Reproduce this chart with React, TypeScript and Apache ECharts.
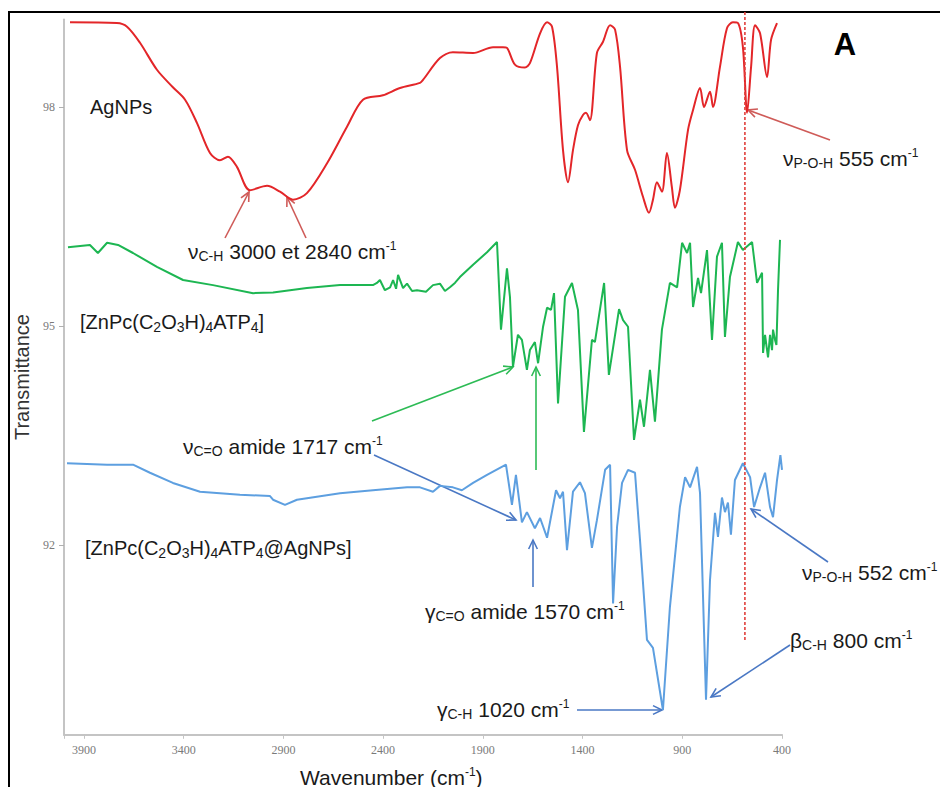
import React, { useEffect, useRef } from "react";
import * as echarts from "echarts";

// ---- axis ticks ----
const X_TICKS = [3900, 3400, 2900, 2400, 1900, 1400, 900, 400];
const Y_TICKS = [92, 95, 98];

// ---- spectra: [wavenumber (cm-1), transmittance (offset)] ----
const agnps: [number, number][] = [
  [3970, 99.16], [3735, 99.15], [3684, 99.1], [3619, 98.88], [3534, 98.51], [3454, 98.27], [3393, 98.1],
  [3333, 97.78], [3268, 97.37], [3218, 97.27], [3178, 97.32], [3133, 97.18], [3068, 96.86], [2982, 96.92],
  [2917, 96.84], [2852, 96.73], [2782, 96.82], [2681, 97.23], [2581, 97.73], [2501, 98.1], [2401, 98.16],
  [2315, 98.26], [2215, 98.33], [2200, 98.37], [2115, 98.67], [2050, 98.75], [1949, 98.74], [1849, 98.82],
  [1799, 98.82], [1779, 98.81], [1739, 98.58], [1689, 98.54], [1664, 98.6], [1613, 99.01], [1578, 99.16],
  [1553, 99.1], [1528, 98.55], [1498, 97.41], [1473, 96.97], [1448, 97.41], [1423, 97.75], [1398, 97.89],
  [1383, 97.92], [1363, 97.82], [1328, 98.74], [1298, 98.89], [1262, 99.12], [1237, 99.06], [1212, 98.55],
  [1177, 97.41], [1137, 97.14], [1097, 96.77], [1067, 96.55], [1047, 96.73], [1027, 96.97], [1002, 96.84],
  [977, 97.37], [952, 96.9], [937, 96.62], [912, 96.86], [871, 97.69], [846, 97.96], [811, 98.26],
  [791, 98.0], [761, 98.21], [746, 98.0], [711, 98.55], [676, 99.08], [646, 99.16], [621, 99.15],
  [596, 98.82], [575, 97.92], [555, 98.55], [535, 99.12], [510, 99.01], [475, 98.41], [455, 98.92],
  [425, 99.15],
];

const znpc: [number, number][] = [
  [3980, 96.08], [3870, 96.11], [3830, 96.0], [3784, 96.14], [3729, 96.11], [3654, 96.0], [3534, 95.81],
  [3403, 95.63], [3253, 95.56], [3052, 95.45], [2952, 95.46], [2782, 95.52], [2616, 95.56], [2451, 95.56],
  [2431, 95.59], [2416, 95.63], [2391, 95.49], [2365, 95.53], [2350, 95.63], [2335, 95.51], [2325, 95.7],
  [2300, 95.52], [2280, 95.58], [2255, 95.48], [2230, 95.49], [2185, 95.47], [2150, 95.56], [2115, 95.58],
  [2090, 95.48], [2065, 95.53], [2040, 95.59], [2015, 95.67], [1949, 95.84], [1879, 96.01], [1829, 96.15],
  [1809, 94.95], [1779, 95.79], [1764, 95.4],
  [1749, 94.44], [1724, 94.88], [1704, 94.81], [1679, 94.4], [1664, 94.67], [1639, 94.78], [1623, 94.49],
  [1598, 94.99], [1578, 95.25], [1558, 95.22], [1543, 95.45], [1523, 93.94], [1488, 95.4], [1453, 95.59],
  [1423, 95.22], [1393, 93.55], [1353, 94.81], [1338, 94.78], [1292, 95.59], [1268, 94.33], [1217, 95.23],
  [1197, 95.08], [1172, 94.99], [1142, 93.44], [1112, 93.99], [1092, 93.62], [1062, 94.4], [1037, 93.69],
  [1002, 94.95], [962, 95.59], [926, 95.53], [901, 96.14], [876, 96.0], [861, 96.14], [846, 95.26],
  [821, 95.66], [806, 95.45], [776, 96.04], [751, 94.81], [726, 95.95], [701, 96.14], [686, 94.85],
  [661, 95.67], [621, 96.15], [596, 96.04], [550, 96.15], [525, 95.59], [500, 95.73], [495, 94.63],
  [485, 94.88], [475, 94.67], [470, 94.57], [460, 94.88], [450, 94.67], [445, 94.95], [435, 94.81],
  [428, 94.74], [420, 95.49], [410, 96.18],
];

const znpcAg: [number, number][] = [
  [3985, 93.12], [3784, 93.1], [3654, 93.1], [3569, 92.99], [3454, 92.85], [3318, 92.73], [3118, 92.69],
  [2967, 92.67], [2952, 92.62], [2892, 92.55], [2832, 92.62], [2616, 92.71], [2451, 92.75], [2280, 92.79],
  [2215, 92.79], [2150, 92.73], [2115, 92.81], [2050, 92.79], [2005, 92.75], [1949, 92.85], [1879, 92.96],
  [1784, 93.1], [1754, 92.55], [1734, 92.96], [1704, 92.31], [1679, 92.45], [1639, 92.23], [1613, 92.37],
  [1578, 92.1], [1533, 92.75], [1513, 92.64], [1498, 92.73], [1478, 91.93], [1448, 92.73], [1413, 92.86],
  [1388, 92.71], [1353, 91.96], [1328, 92.34], [1287, 93.03], [1262, 93.1], [1247, 91.2], [1227, 92.25],
  [1202, 92.85], [1172, 93.03], [1137, 92.99], [1112, 92.07], [1077, 90.7], [1047, 90.59], [997, 89.74],
  [962, 91.15], [912, 92.52], [886, 92.93], [861, 92.79], [826, 93.07], [811, 92.71], [781, 89.88],
  [761, 91.52], [736, 92.44], [721, 92.11], [701, 92.65], [686, 92.45], [671, 92.58], [656, 92.14],
  [636, 92.89], [596, 93.12], [560, 92.93], [540, 92.52], [510, 92.79], [485, 92.99], [460, 92.52],
  [445, 92.38], [425, 92.89], [408, 93.23], [400, 93.03],
];

// vertical reference line (P-O-H band)
const refLine: [number, number][] = [[586, 99.3], [586, 90.7]];

const SANS = "'Liberation Sans', Arial, sans-serif";
const SERIF = "'Liberation Serif', 'Times New Roman', serif";
const TXT = "#1a1a1a";

const rich = {
  s: { fontSize: 14, fontFamily: SANS, fill: TXT, color: TXT, padding: [10, 0, 0, 0] },
  u: { fontSize: 12, fontFamily: SANS, fill: TXT, color: TXT, padding: [0, 0, 10, 0] },
};

function label(x: number, y: number, text: string, size = 20) {
  return {
    type: "text",
    x,
    y,
    silent: true,
    style: {
      text,
      rich,
      fontSize: size,
      fontFamily: SANS,
      fill: TXT,
      align: "left",
      verticalAlign: "middle",
    },
  };
}

function arrow(x1: number, y1: number, x2: number, y2: number, color: string, width = 1.6) {
  const ang = Math.atan2(y2 - y1, x2 - x1);
  const L = 10;
  const a = 0.45;
  const p1 = [x2 - L * Math.cos(ang - a), y2 - L * Math.sin(ang - a)];
  const p2 = [x2 - L * Math.cos(ang + a), y2 - L * Math.sin(ang + a)];
  return [
    { type: "line", silent: true, shape: { x1, y1, x2, y2 }, style: { stroke: color, lineWidth: width } },
    {
      type: "polyline",
      silent: true,
      shape: { points: [p1, [x2, y2], p2] },
      style: { stroke: color, fill: null, lineWidth: width },
    },
  ];
}

const RED_A = "#cf5b58";
const GREEN_A = "#2dbb55";
const BLUE_A = "#4a78c4";

export default function App() {
  const ref = useRef<HTMLDivElement>(null);

  useEffect(() => {
    if (!ref.current) return;
    const chart = echarts.init(ref.current, null, { renderer: "svg" });
    chart.setOption({
      animation: false,
      backgroundColor: "#ffffff",
      textStyle: { fontFamily: SANS },
      grid: { left: 64, right: 158, top: 19.4, bottom: 52.2, containLabel: false, outerBoundsMode: "none" },
      xAxis: {
        type: "value",
        inverse: true,
        min: 400,
        max: 4000,
        interval: 500,
        axisLine: { show: true, lineStyle: { color: "#c4c4c4", width: 2 } },
        axisTick: { show: true, length: 4, lineStyle: { color: "#c4c4c4" } },
        axisLabel: {
          color: "#7a7a7a",
          fontFamily: SERIF,
          fontSize: 12,
          margin: 9,
          formatter: (v: number) => (X_TICKS.includes(v) ? String(v) : ""),
        },
        splitLine: { show: false },
      },
      yAxis: {
        type: "value",
        min: 89.4,
        max: 99.2,
        name: "Transmittance",
        nameLocation: "middle",
        nameGap: 31,
        nameTextStyle: { fontSize: 20, color: "#333", fontFamily: SANS },
        axisLine: { show: true, lineStyle: { color: "#c4c4c4", width: 2 } },
        axisTick: { show: true, length: 5, customValues: Y_TICKS, lineStyle: { color: "#b0b0b0" } },
        axisLabel: { color: "#7a7a7a", fontFamily: SERIF, fontSize: 12, margin: 9, customValues: Y_TICKS },
        splitLine: { show: false },
      },
      series: [
        {
          name: "AgNPs",
          type: "line",
          data: agnps,
          symbol: "none",
          smooth: 0.3,
          silent: true,
          lineStyle: { color: "#e32629", width: 2 },
          itemStyle: { color: "#e32629" },
          z: 3,
        },
        {
          name: "[ZnPc(C2O3H)4ATP4]",
          type: "line",
          data: znpc,
          symbol: "none",
          silent: true,
          lineStyle: { color: "#1db652", width: 2 },
          itemStyle: { color: "#1db652" },
          z: 3,
        },
        {
          name: "[ZnPc(C2O3H)4ATP4@AgNPs]",
          type: "line",
          data: znpcAg,
          symbol: "none",
          silent: true,
          lineStyle: { color: "#5d9fe0", width: 2 },
          itemStyle: { color: "#5d9fe0" },
          z: 3,
        },
        {
          name: "ref",
          type: "line",
          data: refLine,
          symbol: "none",
          silent: true,
          clip: false,
          lineStyle: { color: "#e0403c", width: 1.6, type: [3, 2] },
          itemStyle: { color: "#e0403c" },
          z: 4,
        },
      ],
      graphic: {
        elements: [
          // frame
          { type: "line", silent: true, shape: { x1: 8, y1: 12, x2: 940, y2: 12 }, style: { stroke: "#000", lineWidth: 2 } },
          { type: "line", silent: true, shape: { x1: 9, y1: 12, x2: 9, y2: 787 }, style: { stroke: "#000", lineWidth: 2 } },
          // panel letter
          {
            type: "text",
            x: 845,
            y: 44,
            silent: true,
            style: { text: "A", fontSize: 31, fontWeight: "bold", fontFamily: SANS, fill: "#000", align: "center", verticalAlign: "middle" },
          },
          // x axis title
          label(300, 777, "Wavenumber (cm{u|-1})", 21),
          // series labels
          label(90, 107, "AgNPs"),
          label(80, 322, "[ZnPc(C{s|2}O{s|3}H){s|4}ATP{s|4}]"),
          label(85, 548, "[ZnPc(C{s|2}O{s|3}H){s|4}ATP{s|4}@AgNPs]"),
          // annotations
          label(188, 251, "ν{s|C-H} 3000 et 2840 cm{u|-1}", 21),
          label(783, 158, "ν{s|P-O-H} 555 cm{u|-1}", 21),
          label(183, 446, "ν{s|C=O} amide 1717 cm{u|-1}", 21),
          label(425, 611, "γ{s|C=O} amide 1570 cm{u|-1}", 21),
          label(437, 709, "γ{s|C-H} 1020 cm{u|-1}", 21),
          label(790, 640, "β{s|C-H} 800 cm{u|-1}", 21),
          label(802, 572, "ν{s|P-O-H} 552 cm{u|-1}", 21),
          // arrows
          ...arrow(225, 238, 249, 192, RED_A),
          ...arrow(306, 238, 287, 197, RED_A),
          ...arrow(830, 140, 748, 110, RED_A),
          ...arrow(372, 421, 513, 367, GREEN_A),
          ...arrow(536, 470, 536, 367, GREEN_A),
          ...arrow(374, 455, 516, 520, BLUE_A),
          ...arrow(533, 587, 533, 540, BLUE_A),
          ...arrow(577, 710, 662, 710, BLUE_A),
          ...arrow(790, 645, 711, 697, BLUE_A),
          ...arrow(828, 562, 751, 509, BLUE_A),
        ],
      },
    });
    return () => chart.dispose();
  }, []);

  return (
    <div
      ref={ref}
      style={{ position: "fixed", left: 0, top: 0, width: 940, height: 787, background: "#fff" }}
    />
  );
}
